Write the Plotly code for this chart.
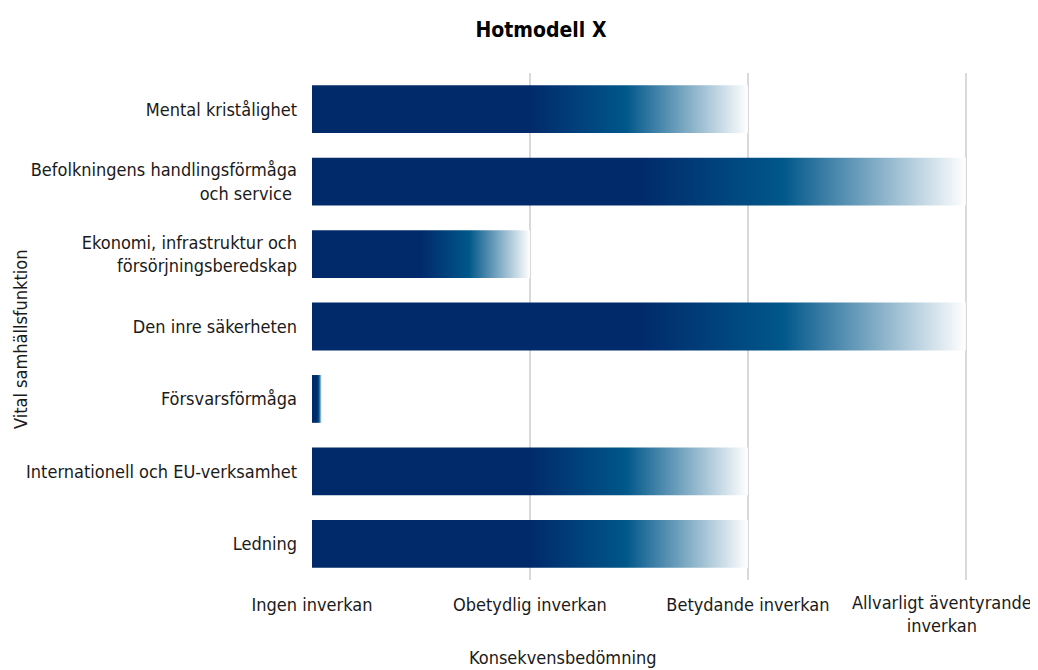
import plotly.graph_objects as go

# data
categories = ["Mental kristålighet", "Befolkningens handlingsförmåga<br>och service ",
              "Ekonomi, infrastruktur och<br>försörjningsberedskap", "Den inre säkerheten",
              "Försvarsförmåga", "Internationell och EU-verksamhet", "Ledning"]
impact = [2, 3, 1, 3, 0.045, 2, 2]
tick_vals = [0, 1, 2, 3]
tick_labels = ["Ingen inverkan", "Obetydlig inverkan", "Betydande inverkan",
               "Allvarligt äventyrande<br>inverkan"]

navy = "#012a6b"
blue = "#00578a"
grad = [[0, navy], [0.5, navy], [0.72, blue], [1, "#ffffff"]]
FONT = "DejaVu Sans Condensed, Liberation Sans Narrow, sans-serif"
half = 0.33

# page body has an 8px margin, so the figure is 8px smaller than the window
OFF = 8
W, H = 1038 - OFF, 670 - OFF
L, R, T, B = 312 - OFF, 70, 73 - OFF, 90
pw, ph = W - L - R, H - T - B

fig = go.Figure()
for i, (cat, v) in enumerate(zip(categories, impact)):
    fig.add_trace(go.Scatter(
        x=[0, v, v, 0, 0], y=[i - half, i - half, i + half, i + half, i - half],
        fill="toself", mode="lines", line=dict(width=0),
        fillgradient=dict(type="horizontal", colorscale=grad),
        hoverinfo="skip", showlegend=False,
    ))

fig.update_layout(
    width=W, height=H, autosize=False,
    margin=dict(l=L, r=R, t=T, b=B, autoexpand=False),
    paper_bgcolor="white", plot_bgcolor="white",
    font=dict(family=FONT, size=18, color="#1a1a1a"),
    title=dict(text="<b>Hotmodell X</b>", x=(541 - OFF) / W, xanchor="center", xref="container",
               y=1 - (30 - OFF) / H, yanchor="middle", yref="container",
               font=dict(size=21, color="black")),
)

# last tick label is too wide to center on its tick (it would leave the page),
# so it is drawn as an annotation nudged to the left like in the original
fig.update_xaxes(range=[0, 3.01], tickvals=tick_vals, ticktext=tick_labels[:3] + [""],
                 showgrid=True, gridcolor="#d9d9d9", gridwidth=2, zeroline=False,
                 showline=False, ticks="", ticklabelstandoff=12, automargin=False,
                 fixedrange=True)
fig.update_yaxes(range=[6.5, -0.5], tickvals=list(range(len(categories))), ticktext=categories,
                 showgrid=False, zeroline=False, showline=False, ticks="",
                 ticklabelstandoff=14, automargin=False, fixedrange=True)

fig.add_annotation(text=tick_labels[3], x=tick_vals[3], xref="x", y=0, yref="paper",
                   xanchor="center", yanchor="top", xshift=-24, yshift=-10,
                   showarrow=False, align="center", font=dict(size=18))

# axis titles placed at pixel positions (converted to paper coords)
fig.add_annotation(text="Konsekvensbedömning", xref="paper", yref="paper",
                   x=(562 - OFF - L) / pw, y=(H - B - (657 - OFF)) / ph,
                   xanchor="center", yanchor="middle", showarrow=False, font=dict(size=18))
fig.add_annotation(text="Vital samhällsfunktion", xref="paper", yref="paper",
                   x=(20 - OFF - L) / pw, y=(H - B - (340 - OFF)) / ph, textangle=-90,
                   xanchor="center", yanchor="middle", showarrow=False, font=dict(size=18))

fig.write_html("out.html")
